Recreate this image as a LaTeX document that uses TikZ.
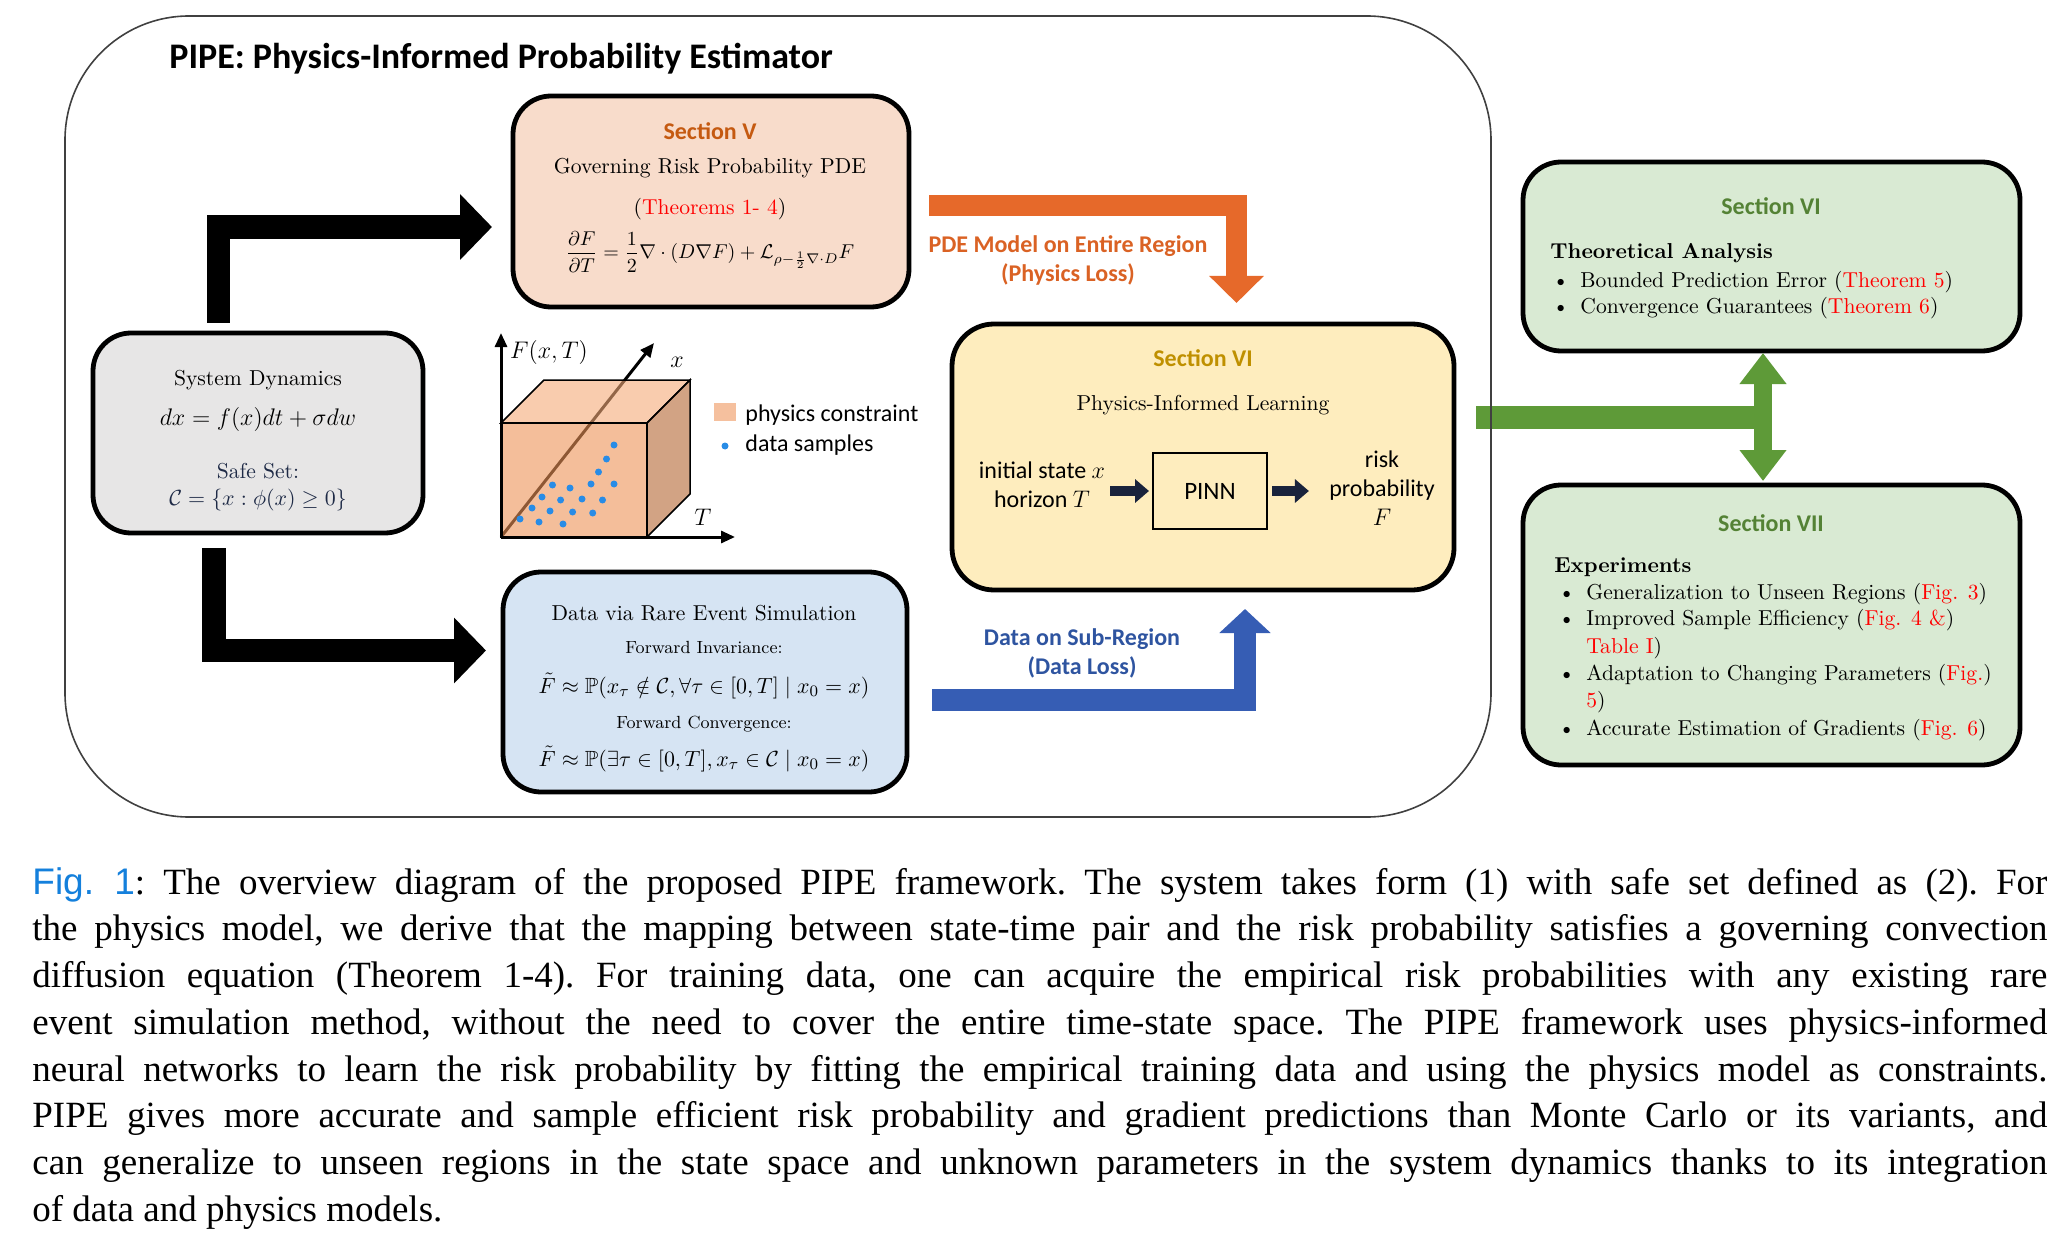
\documentclass[tikz,border=0pt]{standalone}
\usepackage{amsmath,amssymb}
\usepackage{fontspec}
\newfontfamily\calib{Carlito}
\newfontfamily\capfont{Liberation Serif}
\newfontfamily\figfont{Liberation Sans}
\usetikzlibrary{arrows.meta,calc}

\definecolor{peach}{RGB}{248,220,203}
\definecolor{sdgray}{RGB}{231,230,230}
\definecolor{datablue}{RGB}{214,228,243}
\definecolor{learnyellow}{RGB}{254,237,190}
\definecolor{resgreen}{RGB}{217,234,211}
\definecolor{secorange}{RGB}{197,90,17}
\definecolor{secgold}{RGB}{191,144,0}
\definecolor{secgreen}{RGB}{84,130,53}
\definecolor{pdeorange}{RGB}{230,105,42}
\definecolor{pdetext}{RGB}{218,98,36}
\definecolor{datatxt}{RGB}{46,84,160}
\definecolor{dataarrow}{RGB}{54,93,180}
\definecolor{greenarrow}{RGB}{94,154,56}
\definecolor{navyarrow}{RGB}{25,35,60}
\definecolor{dotblue}{RGB}{40,140,230}
\definecolor{cubefront}{RGB}{237,147,87}
\definecolor{cubetop}{RGB}{245,170,120}
\definecolor{cubeside}{RGB}{180,102,50}
\definecolor{cubelegend}{RGB}{245,192,158}
\definecolor{safenavy}{RGB}{30,42,70}
\definecolor{figblue}{RGB}{20,128,220}

\newcommand{\itm}{\makebox[14pt][l]{\textbullet}}
\newcommand{\capline}[1]{\hbox to 1007.5pt{#1}}

\begin{document}
\begin{tikzpicture}[x=0.5pt,y=-0.5pt,
    box/.style={draw, line width=2.4pt, rounded corners=19pt, inner sep=0pt, outer sep=0pt},
    txt/.style={anchor=base, inner sep=0pt, font=\fontsize{10.8}{13}\selectfont},
    subtxt/.style={anchor=base, inner sep=0pt, font=\fontsize{8.8}{10}\selectfont},
    sec/.style={anchor=base, inner sep=0pt, font=\calib\bfseries\fontsize{12}{14}\selectfont},
    lbl/.style={inner sep=0pt, font=\calib\fontsize{12}{14.5}\selectfont},
    item/.style={anchor=base west, inner sep=0pt, font=\fontsize{10.8}{13}\selectfont},
    bigarrow/.style={line width=11.75pt, -{Triangle[length=16pt,width=32pt]}},
    pinnarrow/.style={line width=5pt, navyarrow, -{Triangle[length=7pt,width=11.5pt]}},
    plotaxis/.style={line width=1.5pt, -{Triangle[length=7pt,width=6pt]}},
    cubeface/.style={fill opacity=0.6, draw=black, line width=0.75pt}
]
\useasboundingbox (0,0) rectangle (2072,1246);

% title
\node[anchor=base west, inner sep=0pt, font=\calib\bfseries\fontsize{18}{21}\selectfont] (title) at (169,69) {PIPE: Physics-Informed Probability Estimator};

% boxes
\node[box, fill=peach, minimum width=198pt, minimum height=105.5pt] (sec5) at (711,201.5) {};
\node[box, fill=sdgray, minimum width=165pt, minimum height=100pt] (sd) at (258,433) {};
\node[box, fill=datablue, minimum width=202pt, minimum height=110pt] (data) at (705,682) {};
\node[box, fill=learnyellow, minimum width=251pt, minimum height=133pt, rounded corners=21pt] (learn) at (1203,457) {};
\node[box, fill=resgreen, minimum width=248.5pt, minimum height=94.5pt] (theory) at (1771.5,256.5) {};
\node[box, fill=resgreen, minimum width=248.5pt, minimum height=140pt] (exper) at (1771.5,625) {};

% section V
\node[sec, secorange] (sec5title) at (710,140) {Section V};
\node[txt] (sec5name) at (710,174) {Governing Risk Probability PDE};
\node[txt] (sec5thm) at (710,215) {(\textcolor{red}{Theorems 1- 4})};
\node[inner sep=0pt, font=\fontsize{10}{12}\selectfont] (pde) at (710,252) {$\displaystyle\frac{\partial F}{\partial T} = \frac{1}{2}\nabla\cdot(D\nabla F) + \mathcal{L}_{\rho-\frac{1}{2}\nabla\cdot D}F$};

% system dynamics
\node[txt] (sdname) at (258,386) {System Dynamics};
\node[txt, font=\fontsize{12.5}{14}\selectfont] (sdeq) at (258,425) {$dx = f(x)dt + \sigma dw$};
\node[txt, safenavy] (safename) at (258,478) {Safe Set:};
\node[txt, safenavy] (safeeq) at (258,505) {$\mathcal{C} = \{x : \phi(x) \geq 0\}$};

% data box
\node[txt] (dataname) at (704,620) {Data via Rare Event Simulation};
\node[subtxt] (fwdinv) at (704,653) {Forward Invariance:};
\node[txt, font=\fontsize{11}{13}\selectfont] (inveq) at (704,693) {$\tilde F \approx \mathbb{P}(x_\tau \notin \mathcal{C}, \forall\tau\in[0,T] \mid x_0 = x)$};
\node[subtxt] (fwdconv) at (704,728) {Forward Convergence:};
\node[txt, font=\fontsize{11}{13}\selectfont] (conveq) at (704,766) {$\tilde F \approx \mathbb{P}(\exists\tau\in[0,T], x_\tau\in\mathcal{C} \mid x_0 = x)$};

% learning box
\node[sec, secgold] (learntitle) at (1203,366) {Section VI};
\node[txt] (learnname) at (1203,410) {Physics-Informed Learning};
\node[lbl, align=center] (inp) at (1042,484.5) {initial state $x$\\horizon $T$};
\node[draw, line width=0.8pt, minimum width=57pt, minimum height=38pt, inner sep=0pt, outer sep=0pt, font=\calib\fontsize{12.5}{14}\selectfont] (pinn) at (1210,491) {PINN};
\node[lbl, align=center] (outp) at (1382,488) {risk\\probability\\$F$};
\draw[pinnarrow, shorten <=2.5pt, shorten >=2pt] (inp.east |- pinn.west) -- (pinn.west);
\draw[pinnarrow, shorten <=2.5pt, shorten >=10pt] (pinn.east) -- (outp.west |- pinn.east);

% theory box
\node[sec, secgreen] (theorytitle) at (1771,215) {Section VI};
\node[item, font=\bfseries\fontsize{10.8}{13}\selectfont] (theoryname) at (1550,259) {Theoretical Analysis};
\node[item] (t1) at (1552,287) {\itm Bounded Prediction Error (\textcolor{red}{Theorem 5})};
\node[item] (t2) at (1552,314) {\itm Convergence Guarantees (\textcolor{red}{Theorem 6})};

% experiments box
\node[sec, secgreen] (expertitle) at (1771,531) {Section VII};
\node[item, font=\bfseries\fontsize{10.8}{13}\selectfont] (expername) at (1554,572) {Experiments};
\node[item] (e1) at (1558,599) {\itm Generalization to Unseen Regions (\textcolor{red}{Fig. 3})};
\node[item] (e2) at (1558,625) {\itm Improved Sample Efficiency (\textcolor{red}{Fig. 4 \&})};
\node[item] (e2b) at (1586,653) {\textcolor{red}{Table I})};
\node[item] (e3) at (1558,680) {\itm Adaptation to Changing Parameters (\textcolor{red}{Fig.})};
\node[item] (e3b) at (1586,707) {\textcolor{red}{5})};
\node[item] (e4) at (1558,735) {\itm Accurate Estimation of Gradients (\textcolor{red}{Fig. 6})};

% cube plot
\draw[plotaxis] (501,537) -- (654,343);
\draw[plotaxis] (501,537) -- (735,537);
\filldraw[cubeface, fill=cubetop] (501,423) -- (544,380) -- (690,380) -- (647,423) -- cycle;
\filldraw[cubeface, fill=cubeside] (647,423) -- (690,380) -- (690,494) -- (647,537) -- cycle;
\filldraw[cubeface, fill=cubefront] (501,423) rectangle (647,537);
\draw[plotaxis] (501,537) -- (501,333);
\foreach \px/\py in {614/445, 606.5/459, 598.5/472, 614/484, 591/484, 552.5/485, 570/488,
    542/497, 560.6/500, 582/499, 602.5/500, 532/508, 550/511, 572.6/512, 592.7/513,
    520/519, 539/522, 563/524}
  \fill[dotblue] (\px,\py) circle (1.75pt);
\node[inner sep=0pt, font=\fontsize{12}{14}\selectfont] (flbl) at (549,352) {$F(x,T)$};
\node[inner sep=0pt, font=\fontsize{12}{14}\selectfont] (xlbl) at (677,362) {$x$};
\node[inner sep=0pt, font=\fontsize{12}{14}\selectfont] (tlbl) at (703,517) {$T$};
\fill[cubelegend] (714,403) rectangle (736,421);
\node[lbl, anchor=base west] (legphys) at (745,421) {physics constraint};
\fill[dotblue] (725,446) circle (1.75pt);
\node[lbl, anchor=base west] (legdata) at (745,451) {data samples};

% big arrows
\draw[bigarrow] ($(sd.north west)+(125.5,-10)$) |- ($(sec5.west)+(-21,25.5)$);
\draw[bigarrow] ($(sd.south west)+(121,15)$) |- ($(data.west)+(-17,-31.5)$);
\draw[pdeorange, line width=10.5pt, -{Triangle[length=13.5pt,width=26.5pt]}] ($(sec5.east)+(20,4.5)$) -| ($(learn.north)+(33.5,-21)$);
\draw[dataarrow, line width=11pt, -{Triangle[length=12pt,width=25pt]}] ($(data.east)+(25,18)$) -| ($(learn.south)+(42,19)$);
\node[sec, pdetext] (pdelbl) at (1068,253) {PDE Model on Entire Region};
\node[sec, pdetext] (pdeloss) at (1068,282) {(Physics Loss)};
\node[sec, datatxt] (datalbl) at (1082,645) {Data on Sub-Region};
\node[sec, datatxt] (dataloss) at (1082,674) {(Data Loss)};
\draw[greenarrow, line width=11.5pt] ($(learn.east)+(22,-39.5)$) -- ($(theory.south)+(-8.5,66.5)$);
\draw[greenarrow, line width=9pt, {Triangle[length=15.5pt,width=22.5pt]}-{Triangle[length=15.5pt,width=22.5pt]}] ($(theory.south)+(-8.5,2)$) -- ($(exper.north)+(-8.5,-4)$);

% frame
\draw[line width=0.8pt, black!75, rounded corners=62pt] (65,16) rectangle (1491,817);

% caption
\node[anchor=north west, inner sep=0pt, align=left, font=\capfont\fontsize{18.5}{23.35}\selectfont\frenchspacing] (caption) at (32,867) {%
\capline{{\figfont\color{figblue}Fig. 1}: The overview diagram of the proposed PIPE framework. The system takes form (1) with safe set defined as (2). For}\\
\capline{the physics model, we derive that the mapping between state-time pair and the risk probability satisfies a governing convection}\\
\capline{diffusion equation (Theorem 1-4). For training data, one can acquire the empirical risk probabilities with any existing rare}\\
\capline{event simulation method, without the need to cover the entire time-state space. The PIPE framework uses physics-informed}\\
\capline{neural networks to learn the risk probability by fitting the empirical training data and using the physics model as constraints.}\\
\capline{PIPE gives more accurate and sample efficient risk probability and gradient predictions than Monte Carlo or its variants, and}\\
\capline{can generalize to unseen regions in the state space and unknown parameters in the system dynamics thanks to its integration}\\
of data and physics models.};
\end{tikzpicture}
\end{document}
